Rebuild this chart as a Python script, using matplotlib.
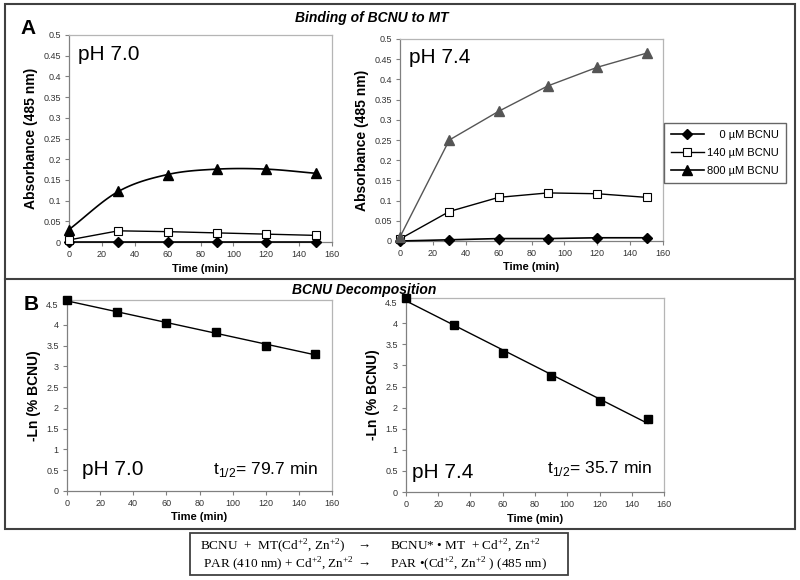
import numpy as np
import matplotlib
matplotlib.use('Agg')
import matplotlib.pyplot as plt
from matplotlib.lines import Line2D
from matplotlib.patches import Rectangle
from matplotlib.ticker import MultipleLocator, FuncFormatter

plt.rcParams['font.family'] = ['Liberation Sans', 'DejaVu Sans']
plt.rcParams['mathtext.fontset'] = 'custom'
plt.rcParams['mathtext.rm'] = 'Liberation Serif'
plt.rcParams['mathtext.sf'] = 'Liberation Sans'

# datos
tiempo = [0, 30, 60, 90, 120, 150]
series = ['0 µM BCNU', '140 µM BCNU', '800 µM BCNU']

abs_ph70_0 = [0, 0, 0, 0, 0, 0]
abs_ph70_140 = [0.005, 0.027, 0.025, 0.022, 0.019, 0.016]
abs_ph70_800 = [0.03, 0.122, 0.163, 0.176, 0.176, 0.166]

abs_ph74_0 = [0, 0.003, 0.006, 0.006, 0.008, 0.008]
abs_ph74_140 = [0.005, 0.073, 0.108, 0.119, 0.117, 0.108]
abs_ph74_800 = [0.01, 0.25, 0.321, 0.384, 0.43, 0.465]

ln_ph70 = [4.6, 4.3, 4.04, 3.83, 3.5, 3.3]
ln_ph74 = [4.6, 3.95, 3.3, 2.75, 2.15, 1.72]

W, H = 800, 580
fig = plt.figure(figsize=(8, 5.8), dpi=100)


def rect(x0, y0, x1, y1):
    # pasa pixeles a fracciones de figura
    return [x0 / W, 1 - y1 / H, (x1 - x0) / W, (y1 - y0) / H]


def suavizar(x, y, n=25):
    # curva suavizada tipo Excel (Catmull-Rom), solo para dibujar
    p = np.column_stack([x, y]).astype(float)
    p = np.vstack([2 * p[0] - p[1], p, 2 * p[-1] - p[-2]])
    t = np.linspace(0, 1, n)[:, None]
    trozos = []
    for i in range(1, len(p) - 2):
        p0, p1, p2, p3 = p[i - 1], p[i], p[i + 1], p[i + 2]
        trozos.append(0.5 * (2 * p1 + (-p0 + p2) * t
                             + (2 * p0 - 5 * p1 + 4 * p2 - p3) * t ** 2
                             + (-p0 + 3 * p1 - 3 * p2 + p3) * t ** 3))
    c = np.vstack(trozos)
    return c[:, 0], c[:, 1]


def estilo(ax, ymax, ystep):
    ax.set_xlim(0, 160)
    ax.set_ylim(0, ymax)
    ax.xaxis.set_major_locator(MultipleLocator(20))
    ax.yaxis.set_major_locator(MultipleLocator(ystep))
    ax.yaxis.set_major_formatter(FuncFormatter(lambda v, p: '%g' % round(v, 3)))
    for s in ['top', 'right']:
        ax.spines[s].set_color('#b5b5b5')
    for s in ['left', 'bottom']:
        ax.spines[s].set_color('#808080')
    for s in ax.spines.values():
        s.set_linewidth(0.9)
    ax.tick_params(direction='out', length=3, width=0.8, color='#808080',
                   labelsize=6.5, labelcolor='#333333', pad=3)
    ax.set_xlabel('Time (min)', fontsize=8, fontweight='bold', labelpad=3)


ms = dict(markeredgecolor='black', clip_on=False, zorder=5)

# ---- A: pH 7.0
ax1 = fig.add_axes(rect(69, 35, 332, 242))
h0, = ax1.plot(tiempo, abs_ph70_0, color='black', lw=1.2, marker='D', ms=5,
               markerfacecolor='black', label=series[0], **ms)
h1, = ax1.plot(tiempo, abs_ph70_140, color='black', lw=1.0, marker='s', ms=6,
               markerfacecolor='white', markeredgewidth=0.8, label=series[1], **ms)
xs, ys = suavizar(tiempo, abs_ph70_800)
ax1.plot(xs, ys, color='black', lw=1.2, clip_on=False)
ax1.plot(tiempo, abs_ph70_800, ls='none', marker='^', ms=6.5,
         markerfacecolor='black', **ms)
h2 = Line2D([], [], color='black', lw=1.2, marker='^', ms=7, markerfacecolor='black')
estilo(ax1, 0.5, 0.05)
ax1.set_ylabel('Absorbance (485 nm)', fontsize=10, fontweight='bold', labelpad=4)
ax1.text(0.034, 0.905, 'pH 7.0', transform=ax1.transAxes, fontsize=15, va='center')

# ---- A: pH 7.4
ax2 = fig.add_axes(rect(400, 39, 663, 241))
ax2.plot(tiempo, abs_ph74_0, color='black', lw=1.2, marker='D', ms=5,
         markerfacecolor='black', **ms)
ax2.plot(tiempo, abs_ph74_140, color='black', lw=1.0, marker='s', ms=6,
         markerfacecolor='white', markeredgewidth=0.8, **ms)
ax2.plot(tiempo, abs_ph74_800, color='#555555', lw=1.0, marker='^', ms=6.5,
         markerfacecolor='#555555', markeredgecolor='#555555', clip_on=False, zorder=5)
estilo(ax2, 0.5, 0.05)
ax2.set_ylabel('Absorbance (485 nm)', fontsize=10, fontweight='bold', labelpad=4)
ax2.text(0.034, 0.91, 'pH 7.4', transform=ax2.transAxes, fontsize=15, va='center')

fig.legend([h0, h1, h2], ['    ' + series[0], series[1], series[2]],
           loc='upper left', bbox_to_anchor=(664 / W, 1 - 123 / H),
           fontsize=8, frameon=True, fancybox=False, edgecolor='#404040',
           handlelength=3.0, handletextpad=0.3, labelspacing=0.75,
           borderpad=0.6, borderaxespad=0)

# ---- B: descomposicion
for caja, ln, ph, thalf, pos_ph, pos_t in [
        ((67, 300, 332, 491), ln_ph70, 'pH 7.0', '79.7', (0.057, 0.11), (0.947, 0.115)),
        ((406, 298, 664, 492), ln_ph74, 'pH 7.4', '35.7', (0.023, 0.10), (0.953, 0.12))]:
    ax = fig.add_axes(rect(*caja))
    m, b = np.polyfit(tiempo, ln, 1)
    xl = np.array([tiempo[0], tiempo[-1]])
    ax.plot(xl, m * xl + b, color='black', lw=1.0)
    ax.plot(tiempo, ln, ls='none', marker='s', ms=6, markerfacecolor='black', **ms)
    estilo(ax, 4.6, 0.5)
    ax.set_ylabel('-Ln (% BCNU)', fontsize=10, fontweight='bold', labelpad=4)
    ax.text(pos_ph[0], pos_ph[1], ph, transform=ax.transAxes, fontsize=15, va='center')
    ax.text(pos_t[0], pos_t[1], r'$\mathsf{t}_{\mathsf{1/2}}$= ' + thalf + ' min',
            transform=ax.transAxes, fontsize=12.5, va='center', ha='right')

# ---- marco, titulos y letras
col = '#404040'
fig.add_artist(Rectangle((5 / W, 1 - 529 / H), 790 / W, 525 / H, transform=fig.transFigure,
                         fill=False, edgecolor=col, lw=1.5))
fig.add_artist(Line2D([5 / W, 795 / W], [1 - 279 / H] * 2, transform=fig.transFigure,
                      color=col, lw=1.5))
fig.text(372 / W, 1 - 18 / H, 'Binding of BCNU to MT', fontsize=10, fontweight='bold',
         fontstyle='italic', ha='center', va='center')
fig.text(364 / W, 1 - 290 / H, 'BCNU Decomposition', fontsize=10, fontweight='bold',
         fontstyle='italic', ha='center', va='center')
fig.text(28 / W, 1 - 29 / H, 'A', fontsize=15, fontweight='bold', ha='center', va='center')
fig.text(31 / W, 1 - 304 / H, 'B', fontsize=15, fontweight='bold', ha='center', va='center')

# ---- ecuaciones
fig.add_artist(Rectangle((190 / W, 1 - 575 / H), 378 / W, 42 / H, transform=fig.transFigure,
                         fill=False, edgecolor=col, lw=1.3))
serif = ['Liberation Serif', 'DejaVu Serif']
ec = [('BCNU  +  MT(Cd$^{+2}$, Zn$^{+2}$)', 'BCNU* \u2022 MT  + Cd$^{+2}$, Zn$^{+2}$', 546),
      (' PAR (410 nm) + Cd$^{+2}$, Zn$^{+2}$', 'PAR \u2022(Cd$^{+2}$, Zn$^{+2}$ ) (485 nm)', 564)]
for izq, der, yy in ec:
    fig.text(200 / W, 1 - yy / H, izq, fontsize=9.5, family=serif, va='center')
    fig.text(364 / W, 1 - yy / H, '\u2192', fontsize=9.5, family=serif, va='center', ha='center')
    fig.text(390 / W, 1 - yy / H, der, fontsize=9.5, family=serif, va='center')

fig.savefig('out.png', dpi=100)
